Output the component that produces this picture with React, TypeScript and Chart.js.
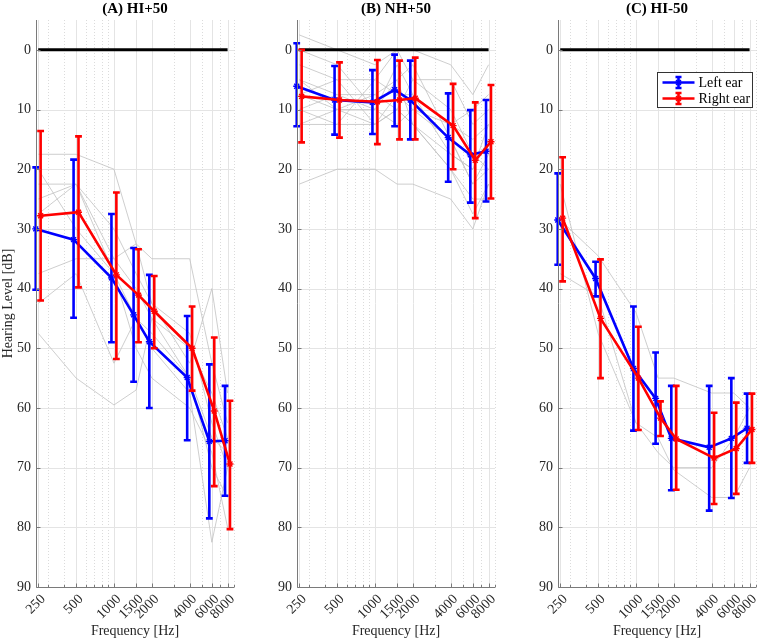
import { useEffect, useRef } from "react";
import { Chart, registerables } from "chart.js";

Chart.register(...registerables);

const FONT = "'Liberation Serif', 'Times New Roman', serif";

const frequencies = [250, 500, 1000, 1500, 2000, 4000, 6000, 8000];
const xTickLabels = ["250", "500", "1000", "1500", "2000", "4000", "6000", "8000"];
const minorFrequencies = [300, 400, 600, 700, 800, 900, 3000, 5000, 7000, 9000];
const yTickValues = [0, 10, 20, 30, 40, 50, 60, 70, 80, 90];
const titles = ["(A) HI+50", "(B) NH+50", "(C) HI-50"];
const seriesNames = ["Left ear", "Right ear"];

// Panel A: HI+50
const aLeftMean = [30.0, 31.8, 38.2, 44.4, 48.9, 54.9, 65.6, 65.5];
const aLeftMin = [19.7, 18.4, 27.5, 33.2, 37.7, 44.6, 52.7, 56.3];
const aLeftMax = [40.2, 44.9, 49.0, 55.6, 60.0, 65.4, 78.5, 74.7];
const aRightMean = [27.8, 27.2, 37.7, 41.1, 43.8, 50.0, 60.5, 69.4];
const aRightMin = [13.6, 14.5, 23.9, 33.4, 37.9, 43.0, 48.2, 58.8];
const aRightMax = [42.0, 39.8, 51.8, 49.0, 50.0, 57.1, 73.1, 80.3];
const aSubjects = [
  [17.5, 17.5, 20, 32.5, 35, 35, 52.5, 62.5],
  [22.5, 22.5, 35, 40, 45, 50, 57.5, 65],
  [25, 22.5, 30, 37.5, 42.5, 47.5, 62.5, 70],
  [27.5, 22.5, 37.5, 45, 47.5, 55, 65, 67.5],
  [37.5, 35, 35, 32.5, 42.5, 52.5, 40, 57.5],
  [42.5, 37.5, 52.5, 45, 50, 57.5, 82.5, 70],
  [47.5, 55, 59.5, 57, 45, 55, 70, 75],
  [20, 30, 37.5, 50, 55, 60, 67.5, 80],
];

// Panel B: NH+50
const bLeftMean = [6.1, 8.4, 8.8, 6.7, 8.4, 14.7, 17.6, 17.0];
const bLeftMin = [-1.1, 2.7, 3.4, 0.8, 1.8, 7.3, 10.1, 8.4];
const bLeftMax = [12.8, 14.2, 14.1, 12.8, 15.0, 22.1, 25.6, 25.4];
const bRightMean = [7.8, 8.4, 8.7, 8.4, 8.1, 12.7, 18.5, 15.4];
const bRightMin = [0.0, 2.1, 1.7, 1.8, 1.3, 5.7, 8.8, 5.9];
const bRightMax = [15.5, 14.7, 15.8, 15.0, 15.0, 20.0, 28.2, 24.9];
const bSubjects = [
  [-2.5, 0, 2.5, 0, 0, 2.5, 7.5, 2.5],
  [22.5, 20, 20, 22.5, 22.5, 25, 30, 22.5],
  [10, 12.5, 5, 0, 5, 10, 17.5, 20],
  [5, 7.5, 10, 5, 2.5, 15, 22.5, 17.5],
  [12.5, 12.5, 12.5, 10, 12.5, 20, 25, 25],
  [2.5, 5, 5, 7.5, 10, 12.5, 15, 12.5],
  [7.5, 10, 12.5, 7.5, 7.5, 17.5, 20, 15],
  [10, 7.5, 7.5, 10, 5, 5, 12.5, 10],
  [0, 2.5, 10, 12.5, 10, 15, 22.5, 20],
  [12.5, 10, 7.5, 5, 12.5, 20, 27.5, 22.5],
  [5, 10, 10, 2.5, 7.5, 12.5, 10, 7.5],
  [7.5, 5, 12.5, 10, 12.5, 17.5, 20, 12.5],
];

// Panel C: HI-50
const cLeftMean = [28.5, 38.3, 53.4, 58.4, 65.1, 66.6, 65.1, 63.4];
const cLeftMin = [20.7, 35.5, 43.0, 50.7, 56.3, 56.3, 55.0, 57.6];
const cLeftMax = [36.0, 41.3, 63.8, 66.0, 73.8, 77.2, 75.1, 69.2];
const cRightMean = [28.2, 45.0, 55.0, 61.7, 65.2, 68.4, 66.8, 63.6];
const cRightMin = [18.0, 35.1, 46.4, 58.9, 56.3, 60.8, 59.1, 57.6];
const cRightMax = [38.8, 55.0, 63.7, 64.7, 73.7, 76.1, 74.4, 69.2];
const cSubjects = [
  [28.5, 34.5, 44, 55, 55, 57.5, 57.5, 60],
  [37.5, 41.3, 62.5, 65, 70.4, 75, 75, 70],
  [22.5, 47.5, 62.5, 67.5, 70, 70, 65, 60],
];

type PanelSpec = {
  title: string;
  left: number;
  width: number;
  yAxisWidth: number;
  rightPad: number;
  showYTitle: boolean;
  showLegend: boolean;
  subjects: number[][];
  leftMean: number[];
  leftMin: number[];
  leftMax: number[];
  rightMean: number[];
  rightMin: number[];
  rightMax: number[];
};

const panels: PanelSpec[] = [
  {
    title: titles[0], left: 0, width: 246, yAxisWidth: 36, rightPad: 12, showYTitle: true, showLegend: false,
    subjects: aSubjects, leftMean: aLeftMean, leftMin: aLeftMin, leftMax: aLeftMax,
    rightMean: aRightMean, rightMin: aRightMin, rightMax: aRightMax,
  },
  {
    title: titles[1], left: 252, width: 248, yAxisWidth: 45, rightPad: 5, showYTitle: false, showLegend: false,
    subjects: bSubjects, leftMean: bLeftMean, leftMin: bLeftMin, leftMax: bLeftMax,
    rightMean: bRightMean, rightMin: bRightMin, rightMax: bRightMax,
  },
  {
    title: titles[2], left: 512, width: 245, yAxisWidth: 46, rightPad: 1, showYTitle: false, showLegend: true,
    subjects: cSubjects, leftMean: cLeftMean, leftMin: cLeftMin, leftMax: cLeftMax,
    rightMean: cRightMean, rightMin: cRightMin, rightMax: cRightMax,
  },
];

const BLUE = "#0000ff";
const RED = "#ff0000";
const LEFT_JITTER = 0.955;
const RIGHT_JITTER = 1.045;

function drawStar(ctx: CanvasRenderingContext2D, x: number, y: number, r: number) {
  ctx.beginPath();
  ctx.moveTo(x - r, y); ctx.lineTo(x + r, y);
  ctx.moveTo(x, y - r); ctx.lineTo(x, y + r);
  const d = r * 0.707;
  ctx.moveTo(x - d, y - d); ctx.lineTo(x + d, y + d);
  ctx.moveTo(x - d, y + d); ctx.lineTo(x + d, y - d);
  ctx.stroke();
}

const gridPlugin = {
  id: "matlabGrid",
  beforeDatasetsDraw(chart: any) {
    const { ctx, chartArea: a, scales } = chart;
    const xs = scales.x;
    const ys = scales.y;
    ctx.save();
    ctx.lineWidth = 1;
    ctx.strokeStyle = "rgba(0,0,0,0.14)";
    ctx.setLineDash([1, 2]);
    for (const f of minorFrequencies) {
      const px = Math.round(xs.getPixelForValue(f)) + 0.5;
      if (px > a.right + 0.5) continue;
      ctx.beginPath(); ctx.moveTo(px, a.top); ctx.lineTo(px, a.bottom); ctx.stroke();
    }
    ctx.setLineDash([]);
    ctx.strokeStyle = "#e4e4e4";
    for (const f of frequencies) {
      const px = Math.round(xs.getPixelForValue(f)) + 0.5;
      ctx.beginPath(); ctx.moveTo(px, a.top); ctx.lineTo(px, a.bottom); ctx.stroke();
    }
    for (const v of yTickValues) {
      const py = Math.round(ys.getPixelForValue(v)) + 0.5;
      ctx.beginPath(); ctx.moveTo(a.left, py); ctx.lineTo(a.right, py); ctx.stroke();
    }
    ctx.restore();
  },
  afterDraw(chart: any) {
    const { ctx, chartArea: a, scales } = chart;
    const xs = scales.x;
    const ys = scales.y;
    ctx.save();
    ctx.strokeStyle = "#7a7a7a";
    ctx.lineWidth = 1;
    const lx = Math.round(a.left) + 0.5;
    const by = Math.round(a.bottom) + 0.5;
    ctx.beginPath();
    ctx.moveTo(lx, a.top); ctx.lineTo(lx, by); ctx.lineTo(a.right, by);
    ctx.stroke();
    for (const f of frequencies) {
      const px = Math.round(xs.getPixelForValue(f)) + 0.5;
      ctx.beginPath(); ctx.moveTo(px, by); ctx.lineTo(px, by - 4); ctx.stroke();
    }
    for (const f of minorFrequencies) {
      const px = Math.round(xs.getPixelForValue(f)) + 0.5;
      if (px > a.right + 0.5) continue;
      ctx.beginPath(); ctx.moveTo(px, by); ctx.lineTo(px, by - 2.5); ctx.stroke();
    }
    for (const v of yTickValues) {
      const py = Math.round(ys.getPixelForValue(v)) + 0.5;
      ctx.beginPath(); ctx.moveTo(lx, py); ctx.lineTo(lx + 4, py); ctx.stroke();
    }
    ctx.restore();
  },
};

const errorBarPlugin = {
  id: "errorBars",
  afterDatasetDraw(chart: any, args: any) {
    const ds = chart.data.datasets[args.index];
    if (!ds.errMin) return;
    const ys = chart.scales.y;
    const ctx = chart.ctx;
    ctx.save();
    ctx.strokeStyle = ds.borderColor;
    ctx.lineWidth = 2.6;
    args.meta.data.forEach((pt: any, i: number) => {
      const x = pt.x;
      const y1 = ys.getPixelForValue(ds.errMin[i]);
      const y2 = ys.getPixelForValue(ds.errMax[i]);
      ctx.beginPath();
      ctx.moveTo(x, y1); ctx.lineTo(x, y2);
      ctx.moveTo(x - 3.4, y1); ctx.lineTo(x + 3.4, y1);
      ctx.moveTo(x - 3.4, y2); ctx.lineTo(x + 3.4, y2);
      ctx.stroke();
    });
    ctx.lineWidth = 1.4;
    args.meta.data.forEach((pt: any) => drawStar(ctx, pt.x, pt.y, 3.5));
    ctx.restore();
  },
};

const legendPlugin = {
  id: "earLegend",
  afterDraw(chart: any) {
    const { ctx, chartArea: a } = chart;
    const bx = Math.round(a.right - 99) + 0.5;
    const by = Math.round(a.top + 52) + 0.5;
    const bw = 95;
    const bh = 35;
    ctx.save();
    ctx.fillStyle = "#ffffff";
    ctx.fillRect(bx, by, bw, bh);
    ctx.strokeStyle = "#333333";
    ctx.lineWidth = 1;
    ctx.strokeRect(bx, by, bw, bh);
    const rows = [
      { name: seriesNames[0], color: BLUE, dy: 10 },
      { name: seriesNames[1], color: RED, dy: 26 },
    ];
    for (const r of rows) {
      const cy = by + r.dy;
      const mx = bx + 21;
      ctx.strokeStyle = r.color;
      ctx.lineWidth = 2.6;
      ctx.beginPath();
      ctx.moveTo(bx + 5, cy); ctx.lineTo(bx + 37, cy);
      ctx.moveTo(mx, cy - 5.5); ctx.lineTo(mx, cy + 5.5);
      ctx.moveTo(mx - 3, cy - 5.5); ctx.lineTo(mx + 3, cy - 5.5);
      ctx.moveTo(mx - 3, cy + 5.5); ctx.lineTo(mx + 3, cy + 5.5);
      ctx.stroke();
      ctx.lineWidth = 1.4;
      drawStar(ctx, mx, cy, 3.5);
      ctx.fillStyle = "#000000";
      ctx.font = `14px ${FONT}`;
      ctx.textBaseline = "middle";
      ctx.textAlign = "left";
      ctx.fillText(r.name, bx + 41, cy + 0.5);
    }
    ctx.restore();
  },
};

function makeConfig(p: PanelSpec): any {
  const datasets: any[] = [];
  p.subjects.forEach((s) => {
    datasets.push({
      data: frequencies.map((f, i) => ({ x: f, y: s[i] })),
      borderColor: "#c2c2c2",
      borderWidth: 0.8,
      pointRadius: 0,
      order: 4,
    });
  });
  datasets.push({
    data: [
      { x: frequencies[0], y: 0 },
      { x: frequencies[frequencies.length - 1], y: 0 },
    ],
    borderColor: "#000000",
    borderWidth: 3,
    pointRadius: 0,
    order: 3,
  });
  datasets.push({
    label: seriesNames[0],
    data: frequencies.map((f, i) => ({ x: f * LEFT_JITTER, y: p.leftMean[i] })),
    borderColor: BLUE,
    backgroundColor: BLUE,
    borderWidth: 2.6,
    pointRadius: 0,
    order: 2,
    clip: false,
    errMin: p.leftMin,
    errMax: p.leftMax,
  });
  datasets.push({
    label: seriesNames[1],
    data: frequencies.map((f, i) => ({ x: f * RIGHT_JITTER, y: p.rightMean[i] })),
    borderColor: RED,
    backgroundColor: RED,
    borderWidth: 2.6,
    pointRadius: 0,
    order: 1,
    clip: false,
    errMin: p.rightMin,
    errMax: p.rightMax,
  });

  return {
    type: "line",
    data: { datasets },
    options: {
      animation: false,
      responsive: false,
      devicePixelRatio: 1,
      events: [],
      layout: { padding: { left: 0, right: p.rightPad, top: 0, bottom: 0 } },
      plugins: {
        legend: { display: false },
        tooltip: { enabled: false },
        title: {
          display: true,
          text: p.title,
          fullSize: false,
          color: "#000000",
          font: { family: FONT, size: 15, weight: "bold" },
          padding: { top: 0, bottom: 2 },
        },
      },
      scales: {
        x: {
          type: "logarithmic",
          min: 240,
          max: 9000,
          afterBuildTicks: (s: any) => {
            s.ticks = frequencies.map((v) => ({ value: v }));
          },
          afterFit: (s: any) => {
            s.height = 53;
            s.paddingLeft = 0;
            s.paddingRight = 0;
          },
          grid: { display: false, drawTicks: false },
          border: { display: false },
          ticks: {
            autoSkip: false,
            minRotation: 45,
            maxRotation: 45,
            padding: 4,
            labelOffset: 5,
            color: "#262626",
            font: { family: FONT, size: 14 },
            callback: (_v: any, i: number) => xTickLabels[i],
          },
          title: {
            display: true,
            text: "Frequency [Hz]",
            color: "#262626",
            font: { family: FONT, size: 14 },
            padding: { top: 0, bottom: 0 },
          },
        },
        y: {
          type: "linear",
          reverse: true,
          min: -5,
          max: 90,
          afterBuildTicks: (s: any) => {
            s.ticks = yTickValues.map((v) => ({ value: v }));
          },
          afterFit: (s: any) => {
            s.width = p.yAxisWidth;
            s.paddingTop = 0;
            s.paddingBottom = 0;
          },
          grid: { display: false, drawTicks: false },
          border: { display: false },
          ticks: {
            autoSkip: false,
            padding: 5,
            color: "#262626",
            font: { family: FONT, size: 14 },
          },
          title: {
            display: p.showYTitle,
            text: "Hearing Level [dB]",
            color: "#262626",
            font: { family: FONT, size: 14 },
            padding: { top: 0, bottom: 0 },
          },
        },
      },
    },
    plugins: p.showLegend
      ? [gridPlugin, errorBarPlugin, legendPlugin]
      : [gridPlugin, errorBarPlugin],
  };
}

function PanelChart({ panel }: { panel: PanelSpec }) {
  const ref = useRef<HTMLCanvasElement>(null);
  useEffect(() => {
    if (!ref.current) return;
    const chart = new Chart(ref.current, makeConfig(panel));
    return () => chart.destroy();
  }, [panel]);
  return (
    <canvas
      ref={ref}
      width={panel.width}
      height={640}
      style={{ position: "absolute", left: panel.left, top: 0, width: panel.width, height: 640 }}
    />
  );
}

export default function App() {
  return (
    <div
      style={{
        position: "absolute",
        left: 0,
        top: 0,
        width: 757,
        height: 640,
        background: "#ffffff",
        overflow: "hidden",
      }}
    >
      {panels.map((p, i) => (
        <PanelChart key={i} panel={p} />
      ))}
    </div>
  );
}
